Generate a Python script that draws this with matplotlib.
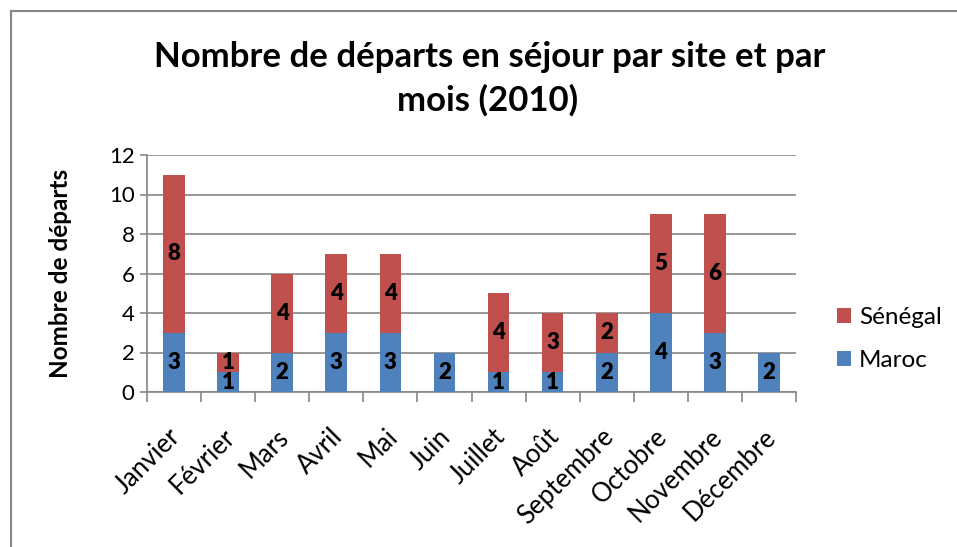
import matplotlib
matplotlib.use("Agg")
import matplotlib.pyplot as plt
import matplotlib.transforms as mtransforms
import numpy as np
from matplotlib.lines import Line2D

months = ["Janvier", "Février", "Mars", "Avril", "Mai", "Juin", "Juillet",
          "Août", "Septembre", "Octobre", "Novembre", "Décembre"]
maroc = [3, 1, 2, 3, 3, 2, 1, 1, 2, 4, 3, 2]
senegal = [8, 1, 4, 4, 4, 0, 4, 3, 2, 5, 6, 0]
yticks = [0, 2, 4, 6, 8, 10, 12]

plt.rcParams['font.family'] = ['Lato', 'DejaVu Sans']

W, H = 957, 547
fig = plt.figure(figsize=(W / 100, H / 100), dpi=100)
ax = fig.add_axes([147 / W, 1 - 392 / H, (796 - 147) / W, (392 - 155) / H])

blue = "#4F81BD"
red = "#C0504D"
grey = "#868686"

x = np.arange(len(months))
b1 = ax.bar(x, maroc, width=0.4, color=blue, label="Maroc", zorder=3)
b2 = ax.bar(x, senegal, width=0.4, bottom=maroc, color=red, label="Sénégal", zorder=3)

for bars, vals in ((b1, maroc), (b2, senegal)):
    labels = [str(v) if v != 0 else "" for v in vals]
    ax.bar_label(bars, labels=labels, label_type="center", fontsize=16,
                 fontweight="heavy", color="black", zorder=4)

ax.set_xlim(-0.5, len(months) - 0.5)
ax.set_ylim(0, 12)
ax.set_yticks(yticks)
ax.set_yticklabels([str(v) for v in yticks], fontsize=16)
ax.yaxis.grid(True, color=grey, linewidth=1.2, zorder=0)
ax.tick_params(axis="y", length=5, width=1.2, color=grey, pad=4)

ax.set_xticks(x)
ax.set_xticklabels(months, fontsize=18.5, rotation=45, ha="right",
                   rotation_mode="anchor")
ax.tick_params(axis="x", length=0, pad=23)
shift = mtransforms.ScaledTranslation(-6 / 100, 0, fig.dpi_scale_trans)
for lab in ax.get_xticklabels():
    lab.set_transform(lab.get_transform() + shift)
ax.set_xticks(np.arange(-0.5, len(months), 1), minor=True)
ax.tick_params(axis="x", which="minor", length=7, width=1.2, color=grey)

for s in ("top", "right"):
    ax.spines[s].set_visible(False)
for s in ("left", "bottom"):
    ax.spines[s].set_color(grey)
    ax.spines[s].set_linewidth(1.2)

ax.set_ylabel("Nombre de départs", fontsize=17.5, fontweight="bold")
ax.yaxis.set_label_coords((72 - 147) / 649, 0.5)

fig.text(490 / W, 1 - 57 / H, "Nombre de départs en séjour par site et par",
         ha="center", va="center", fontsize=25, fontweight="bold")
fig.text(488 / W, 1 - 100 / H, "mois (2010)",
         ha="center", va="center", fontsize=25, fontweight="bold")

handles = [b2, b1]
fig.legend(handles, ["Sénégal", "Maroc"], loc="center left",
           bbox_to_anchor=(815 / W, 1 - 339 / H), frameon=False, fontsize=17.5,
           handlelength=0.6, handleheight=0.6, handletextpad=0.3,
           labelspacing=0.9)

# outer chart border (partially cropped in the reference)
fig.add_artist(Line2D([10.5 / W, 10.5 / W], [0, 1 - 10.5 / H],
                      transform=fig.transFigure, color=grey, linewidth=1.5))
fig.add_artist(Line2D([10.5 / W, 1], [1 - 10.5 / H, 1 - 10.5 / H],
                      transform=fig.transFigure, color=grey, linewidth=1.5))

fig.savefig("out.png", dpi=100)
